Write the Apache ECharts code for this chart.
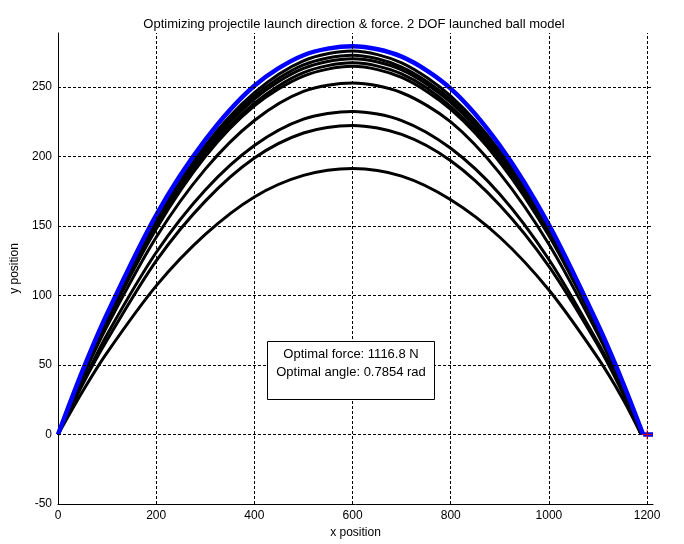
<!DOCTYPE html>
<html>
<head>
<meta charset="utf-8">
<script src="https://cdn.jsdelivr.net/npm/echarts@6/dist/echarts.min.js"></script>
<style>
  html, body { margin: 0; padding: 0; background: #fff; }
  #main { width: 684px; height: 544px; }
</style>
</head>
<body>
<div id="main"></div>
<script>
// x positions sampled along each trial trajectory
var xPos = [0, 50, 100, 200, 300, 400, 500, 600, 700, 800, 900, 1000, 1100, 1150, 1188];
// y positions of the trial runs (black), lowest to highest
var run1 = [0, 31, 59, 107, 144, 171, 186.5, 191.5, 186, 169, 142, 104, 55, 26, 0];
var run2 = [0, 36, 68, 125, 168, 199, 217, 222.5, 216, 197, 165, 121, 64, 30, 0];
var run3 = [0, 37, 72, 131, 176, 208, 227, 232.5, 226, 206, 173, 126, 66, 32, 0];
var run4 = [0, 41, 78, 142, 191, 226, 247, 253, 246, 225, 188, 137, 72, 34, 0];
var run5 = [0, 43, 81.5, 148, 200, 236.5, 258, 265, 257, 234, 196, 143, 75.5, 36, 0];
var run6 = [0, 43, 82, 149.5, 201.5, 238.5, 260.5, 267.5, 259.5, 236, 198, 144.5, 76, 36.5, 0];
var run7 = [0, 43.5, 83, 151, 204, 241.5, 263.5, 270.5, 262.5, 239, 200, 146, 77, 37, 0];
var run8 = [0, 44, 84, 152.5, 205.5, 243.5, 266, 273, 264.5, 241, 202, 147.5, 78, 37, 0];
var run9 = [0, 44.5, 85, 154, 208, 246, 269, 276, 267.5, 243.5, 204, 149, 78.5, 37.5, 0];
// optimal trajectory (blue)
var bestX = [0, 50, 100, 200, 300, 400, 500, 600, 700, 800, 900, 1000, 1100, 1150, 1192];
var bestY = [0, 46, 87, 158, 212, 251, 273, 279.5, 272, 249, 208, 151, 79, 38, 0];
// ball rolling on the ground after landing
var groundX = [1192, 1212];
var groundY = [0, 0];
// target point
var target = [1200, 0];
// grid lines
var xGrid = [200, 400, 600, 800, 1000, 1200];
var yGrid = [0, 50, 100, 150, 200, 250];

function pairs(xs, ys) {
	var out = [];
	for (var i = 0; i < xs.length; i++) {
		out.push([xs[i], ys[i]]);
	}
	return out;
}

var chart = echarts.init(document.getElementById('main'), null, {renderer: 'canvas'});
var font = 'Arial, "Liberation Sans", sans-serif';
var runs = [run1, run2, run3, run4, run5, run6, run7, run8, run9];

var series = [];
//网格虚线
var gridData = [];
xGrid.forEach(function(v) { gridData.push({xAxis: v}); });
yGrid.forEach(function(v) { gridData.push({yAxis: v}); });
series.push({
	type: 'line',
	data: [[0, 0]],
	symbol: 'none',
	lineStyle: {width: 0},
	silent: true,
	z: 1,
	markLine: {
		silent: true,
		symbol: ['none', 'none'],
		label: {show: false},
		lineStyle: {color: '#000', width: 1, type: [3, 2]},
		data: gridData
	}
});
runs.forEach(function(r, i) {
	series.push({
		name: 'run' + (i + 1),
		type: 'line',
		data: pairs(xPos, r),
		smooth: 0.3,
		symbol: 'none',
		lineStyle: {color: '#000', width: 3},
		z: 2
	});
});
series.push({
	name: 'optimal',
	type: 'line',
	data: pairs(bestX, bestY),
	smooth: 0.3,
	symbol: 'none',
	lineStyle: {color: '#0000ff', width: 4.5},
	z: 3
});
series.push({
	name: 'ground',
	type: 'line',
	data: pairs(groundX, groundY),
	symbol: 'none',
	lineStyle: {color: '#0000ff', width: 4.5},
	z: 3
});
series.push({
	name: 'target',
	type: 'scatter',
	data: [target],
	symbol: 'path://M4,0h1v4h4v1h-4v4h-1v-4h-4v-1h4z',
	symbolSize: 10,
	itemStyle: {color: '#ff0000'},
	z: 5
});

var option = {
	animation: false,
	backgroundColor: '#fff',
	title: {
		text: 'Optimizing projectile launch direction & force. 2 DOF launched ball model',
		left: 349,
		top: 13,
		textAlign: 'center',
		textStyle: {fontFamily: font, fontSize: 13, fontWeight: 'normal', color: '#000'}
	},
	grid: {left: 58, right: 31, top: 33, bottom: 40, containLabel: false},
	xAxis: {
		type: 'value',
		min: 0,
		max: 1212,
		interval: 200,
		name: 'x position',
		nameLocation: 'middle',
		nameGap: 21,
		nameTextStyle: {fontFamily: font, fontSize: 12, color: '#000'},
		axisLine: {onZero: false, lineStyle: {color: '#000', width: 1}},
		axisTick: {show: false},
		splitLine: {show: false},
		axisLabel: {
			fontFamily: font, fontSize: 12, color: '#000', margin: 6, showMaxLabel: false,
			formatter: function(v) { return String(v); }
		}
	},
	yAxis: {
		type: 'value',
		min: -50,
		max: 289,
		interval: 50,
		name: 'y position',
		nameLocation: 'middle',
		nameGap: 28,
		nameTextStyle: {fontFamily: font, fontSize: 12, color: '#000'},
		axisLine: {show: true, onZero: false, lineStyle: {color: '#000', width: 1}},
		axisTick: {show: false},
		splitLine: {show: false},
		axisLabel: {
			fontFamily: font, fontSize: 12, color: '#000', margin: 6, showMaxLabel: false,
			formatter: function(v) { return String(v); }
		}
	},
	graphic: [
		{
			type: 'rect',
			shape: {x: 267.5, y: 341.5, width: 167, height: 58},
			style: {fill: '#fff', stroke: '#000', lineWidth: 1},
			z: 10
		},
		{
			type: 'text',
			x: 351,
			y: 354,
			style: {text: 'Optimal force: 1116.8 N', fontFamily: font, fontSize: 13, fill: '#000', textAlign: 'center', textVerticalAlign: 'middle'},
			z: 11
		},
		{
			type: 'text',
			x: 351,
			y: 372,
			style: {text: 'Optimal angle: 0.7854 rad', fontFamily: font, fontSize: 13, fill: '#000', textAlign: 'center', textVerticalAlign: 'middle'},
			z: 11
		}
	],
	series: series
};
chart.setOption(option);
</script>
</body>
</html>
